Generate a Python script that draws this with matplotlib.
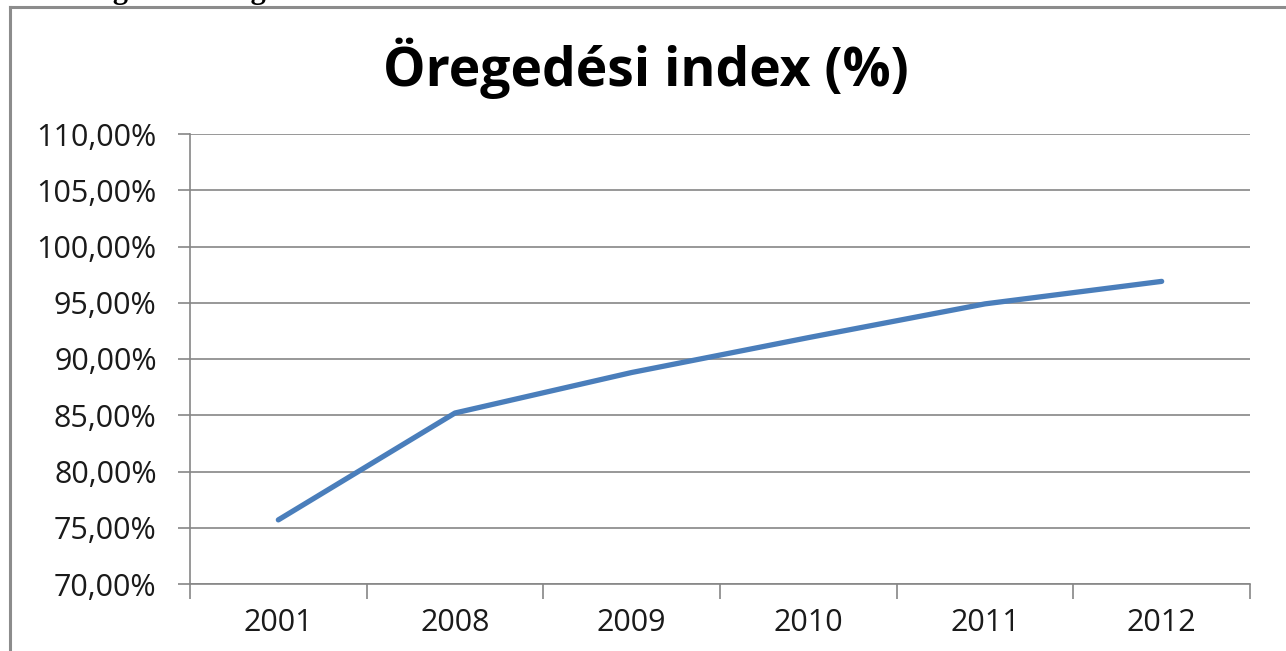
import matplotlib.pyplot as plt
from matplotlib.lines import Line2D
from matplotlib.ticker import FuncFormatter, MultipleLocator

years = ["2001", "2008", "2009", "2010", "2011", "2012"]
index_pct = [75.7, 85.2, 88.8, 91.9, 94.9, 96.9]

fig = plt.figure(figsize=(12.86, 6.51), dpi=100)
W, H = 1286, 651

# chart frame (gray border, cut off at the right and bottom)
fig.add_artist(Line2D([9.5 / W, 9.5 / W], [0, 1 - 7 / H], color="#8c8c8c", lw=2.2))
fig.add_artist(Line2D([9.5 / W, 1], [1 - 7 / H, 1 - 7 / H], color="#8c8c8c", lw=2.2))

# clipped caption above the chart (only its lower edge shows)
fig.text(0.002, 1 + 2 / H, "ábra diagram: Öregedési index alakulása Gödöllőn",
         fontsize=22, fontweight="bold", family="Liberation Serif", va="baseline")

ax = fig.add_axes([190 / W, 1 - 584 / H, (1250 - 190) / W, (584 - 134) / H])
x = range(len(years))
ax.plot(x, index_pct, color="#4a7ebb", lw=3.8, solid_capstyle="round")

ax.set_xlim(-0.5, len(years) - 0.5)
ax.set_ylim(70, 110)
ax.yaxis.set_major_locator(MultipleLocator(5))
ax.yaxis.set_major_formatter(FuncFormatter(lambda v, p: f"{v:.2f}".replace(".", ",") + "%"))
ax.set_xticks(list(x))
ax.set_xticklabels(years)
ax.set_xticks([i - 0.5 for i in range(len(years) + 1)], minor=True)
ax.tick_params(axis="x", which="major", length=0, pad=17)
ax.tick_params(axis="x", which="minor", length=11, color="#868686", width=1.2)
ax.tick_params(axis="y", length=9, color="#868686", width=1.2, pad=15)
ax.tick_params(labelsize=22, labelcolor="#1a1a1a")
for lab in ax.get_xticklabels() + ax.get_yticklabels():
    lab.set_family("Open Sans")

ax.grid(axis="y", color="#868686", lw=1.2)
ax.set_axisbelow(True)
for s in ["top", "right"]:
    ax.spines[s].set_visible(False)
for s in ["left", "bottom"]:
    ax.spines[s].set_color("#868686")
    ax.spines[s].set_linewidth(1.2)

fig.text(646 / W, 1 - 68 / H, "Öregedési index (%)", fontsize=38.5, fontweight="bold",
         family="Open Sans", ha="center", va="center")

fig.savefig("out.png", dpi=100)
